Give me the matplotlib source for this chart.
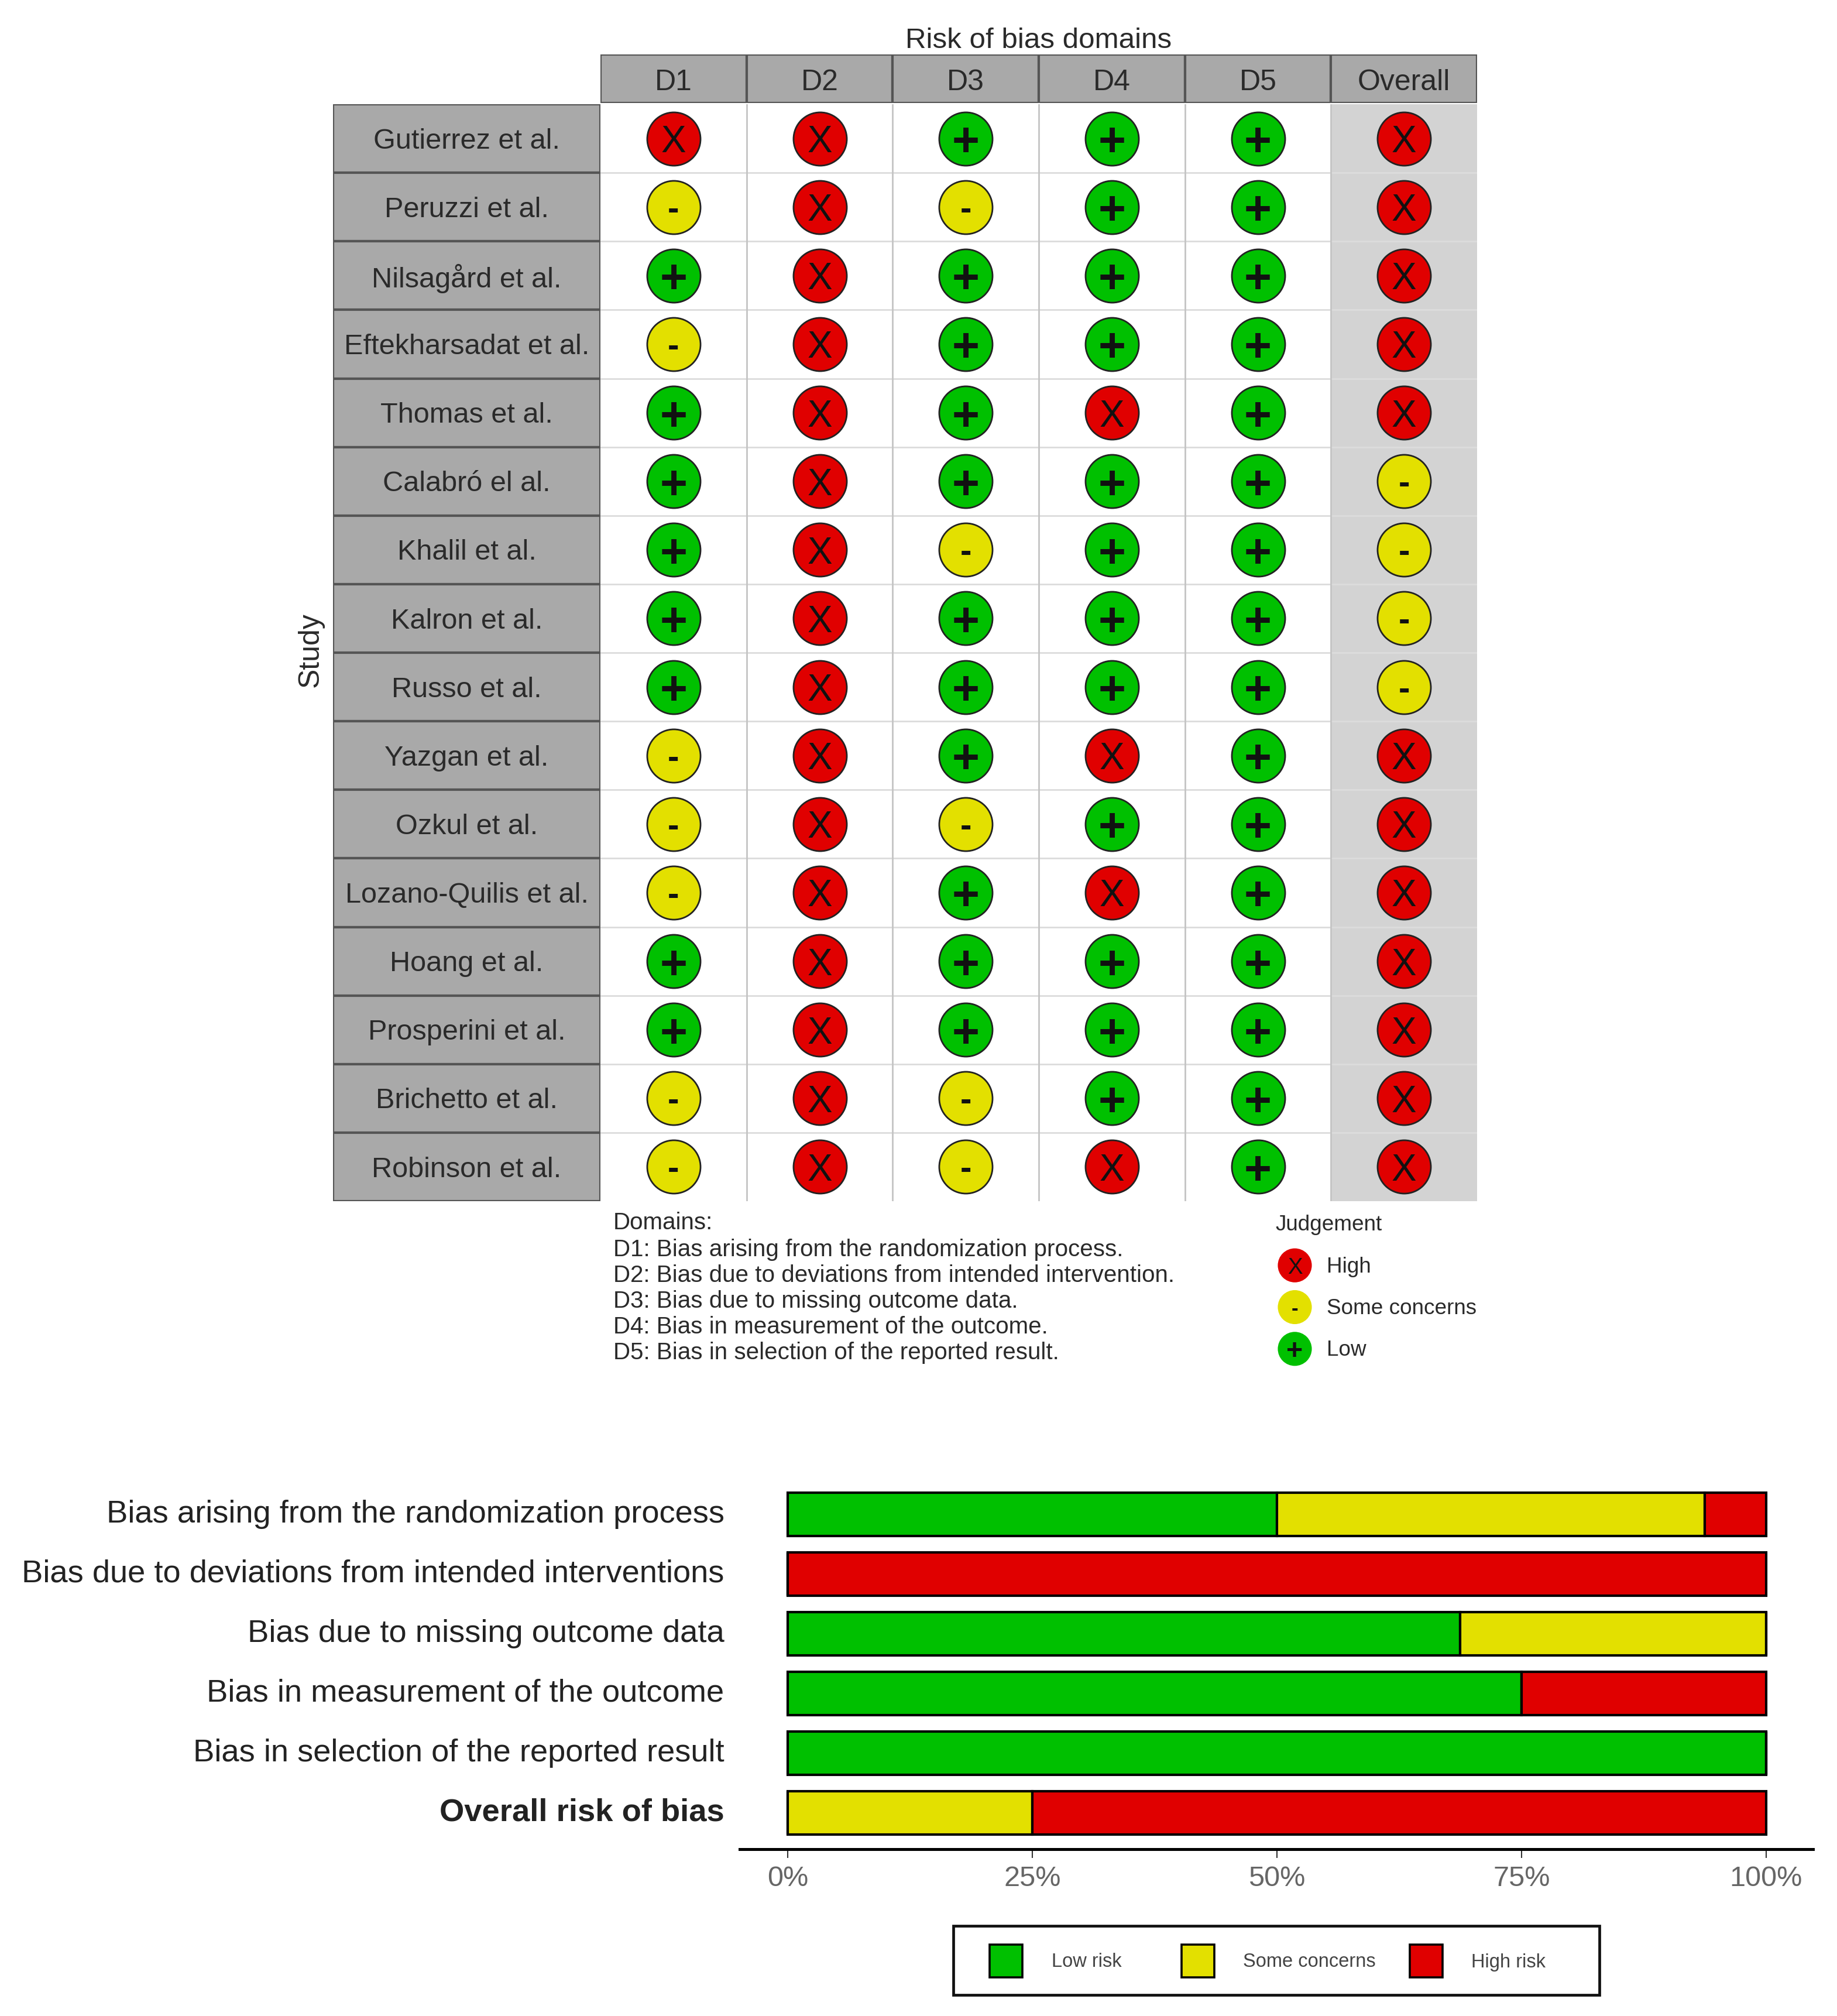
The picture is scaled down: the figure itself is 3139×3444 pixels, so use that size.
import matplotlib
matplotlib.use('Agg')
import matplotlib.pyplot as plt
from matplotlib.patches import Rectangle
from matplotlib.transforms import ScaledTranslation

W = 3139
H = 3444
plt.rcParams['font.family'] = ['Liberation Sans', 'DejaVu Sans']

studies = ['Gutierrez et al.', 'Peruzzi et al.', 'Nilsagård et al.', 'Eftekharsadat et al.',
           'Thomas et al.', 'Calabró el al.', 'Khalil et al.', 'Kalron et al.', 'Russo et al.',
           'Yazgan et al.', 'Ozkul et al.', 'Lozano-Quilis et al.', 'Hoang et al.',
           'Prosperini et al.', 'Brichetto et al.', 'Robinson et al.']
domains = ['D1', 'D2', 'D3', 'D4', 'D5', 'Overall']

# one string per study, one letter per domain
judgements = ['XX+++X', '-X-++X', '+X+++X', '-X+++X', '+X+X+X', '+X+++-', '+X-++-', '+X+++-',
              '+X+++-', '-X+X+X', '-X-++X', '-X+X+X', '+X+++X', '+X+++X', '-X-++X', '-X-X+X']

bias_labels = ['Bias arising from the randomization process',
               'Bias due to deviations from intended interventions',
               'Bias due to missing outcome data',
               'Bias in measurement of the outcome',
               'Bias in selection of the reported result',
               'Overall risk of bias']
low_pct = [50, 0, 68.75, 75, 100, 0]
some_pct = [43.75, 0, 31.25, 0, 0, 25]
high_pct = [6.25, 100, 0, 25, 0, 75]
pct_ticks = [0, 25, 50, 75, 100]

domain_notes = ['Domains:',
                'D1: Bias arising from the randomization process.',
                'D2: Bias due to deviations from intended intervention.',
                'D3: Bias due to missing outcome data.',
                'D4: Bias in measurement of the outcome.',
                'D5: Bias in selection of the reported result.']

RED = '#E00000'
YELLOW = '#E3E000'
GREEN = '#00C000'
colors = {'X': RED, '-': YELLOW, '+': GREEN}
glyph_size = {'X': 46, '-': 42, '+': 58}
glyph_weight = {'X': 'normal', '-': 'bold', '+': 'bold'}
GREY = '#A9A9A9'
DARK = '#555555'
TXT = '#2A2A2A'


def add_ax(x0, y0, x1, y1):
    # position given in image pixels, top-left origin
    return fig.add_axes([x0 / W, 1 - y1 / H, (x1 - x0) / W, (y1 - y0) / H])


def ftext(x, y, s, **kw):
    fig.text(x / W, 1 - y / H, s, **kw)


fig = plt.figure(figsize=(W / 100, H / 100), dpi=100, facecolor='white')

# header strip
ax_head = add_ax(1026, 93, 2524, 176)
ax_head.bar(range(6), [1] * 6, width=1, color=GREY, edgecolor=DARK, linewidth=3)
ax_head.set_xlim(-0.5, 5.5)
ax_head.set_ylim(0, 1)
ax_head.axis('off')
for i, d in enumerate(domains):
    ax_head.text(i, 0.42, d, ha='center', va='center', fontsize=36, color=TXT)

# study strip
ax_study = add_ax(569, 178, 1026, 2052)
ax_study.barh(range(16), [1] * 16, height=1, color=GREY, edgecolor=DARK, linewidth=3)
ax_study.set_xlim(0, 1)
ax_study.set_ylim(15.5, -0.5)
ax_study.axis('off')
for i, s in enumerate(studies):
    ax_study.text(0.5, i + 0.04, s, ha='center', va='center', fontsize=35, color=TXT)

# traffic light grid
ax = add_ax(1026, 178, 2524, 2052)
ax.set_xlim(-0.5, 5.5)
ax.set_ylim(15.5, -0.5)
ax.axvspan(4.5, 5.5, color='#D3D3D3', lw=0)
for i in range(1, 16):
    ax.axhline(i - 0.5, color='#DCDCDC', lw=2)
for j in range(1, 6):
    ax.axvline(j - 0.5, color='#C4C4C4', lw=2)
for i, row in enumerate(judgements):
    for j, v in enumerate(row):
        ax.scatter(j, i, s=4300, color=colors[v], edgecolor='#222222', linewidth=2, zorder=3)
        ax.text(j, i, v, ha='center', va='center_baseline', fontsize=glyph_size[v],
                fontweight=glyph_weight[v], color='#111111', zorder=4)
ax.axis('off')

ftext(1775, 70, 'Risk of bias domains', ha='center', va='center', fontsize=35.5, color=TXT)
ftext(531, 1110, 'Study', ha='center', va='center', rotation=90, fontsize=36, color=TXT)

# domain notes
for y, s in zip([2089, 2135, 2179, 2223, 2267, 2311], domain_notes):
    ftext(1048, y, s, ha='left', va='center', fontsize=29.1, color=TXT)

# judgement legend
ax_key = add_ax(2170, 2126, 2255, 2340)
ax_key.set_xlim(0, 1)
ax_key.set_ylim(2.5, -0.5)
for i, (v, name) in enumerate(zip('X-+', ['High', 'Some concerns', 'Low'])):
    ax_key.scatter(0.5, i, s=1750, color=colors[v], edgecolor='none', zorder=3)
    ax_key.text(0.5, i, v, ha='center', va='center_baseline', fontsize=glyph_size[v] * 0.6,
                fontweight=glyph_weight[v], color='#111111', zorder=4)
    ftext(2267, 2164 + i * 71.5, name, ha='left', va='center', fontsize=26.6, color=TXT)
ax_key.axis('off')
ftext(2179, 2093, 'Judgement', ha='left', va='center', fontsize=26.6, color=TXT)

# summary bars
ax_bar = add_ax(1264, 2530, 3098, 3159)
left_some = [a + b for a, b in zip(low_pct, some_pct)]
ypos = list(range(6))
ax_bar.barh(ypos, low_pct, height=0.72, color=GREEN, edgecolor='black', linewidth=3)
ax_bar.barh(ypos, some_pct, left=low_pct, height=0.72, color=YELLOW, edgecolor='black', linewidth=3)
ax_bar.barh(ypos, high_pct, left=left_some, height=0.72, color=RED, edgecolor='black', linewidth=3)
ax_bar.set_xlim(-4.9, 104.8)
ax_bar.set_ylim(5 + 62 / 102, -57 / 102)
for side in ['top', 'right', 'left']:
    ax_bar.spines[side].set_visible(False)
ax_bar.spines['bottom'].set_linewidth(3.6)
ax_bar.set_yticks(ypos)
ax_bar.set_yticklabels(bias_labels, fontsize=39.2, color='#222222')
ax_bar.get_yticklabels()[-1].set_fontweight('bold')
ax_bar.tick_params(axis='y', length=0, pad=19)
# labels sit a little above the bar centres
for lab in ax_bar.get_yticklabels():
    lab.set_transform(lab.get_transform() + ScaledTranslation(0, 4 / 72, fig.dpi_scale_trans))
ax_bar.set_xticks(pct_ticks)
ax_bar.set_xticklabels([str(t) + '%' for t in pct_ticks], fontsize=35, color='#666666')
ax_bar.tick_params(axis='x', length=11, width=1.5, color='#333333', pad=9)

# bar legend box
fig.add_artist(Rectangle((1629 / W, 1 - 3408 / H), (2733 - 1629) / W, (3408 - 3290) / H,
                         transform=fig.transFigure, facecolor='white', edgecolor='#111111', linewidth=3.4))
for x, name, tx, c in zip([1691, 2019, 2409], ['Low risk', 'Some concerns', 'High risk'],
                          [1797, 2124, 2514], [GREEN, YELLOW, RED]):
    fig.add_artist(Rectangle((x / W, 1 - 3378 / H), 56 / W, 56 / H, transform=fig.transFigure,
                             facecolor=c, edgecolor='black', linewidth=2.6))
    ftext(tx, 3352, name, ha='left', va='center', fontsize=23.5, color='#444444')

fig.savefig('out.png', dpi=100)
